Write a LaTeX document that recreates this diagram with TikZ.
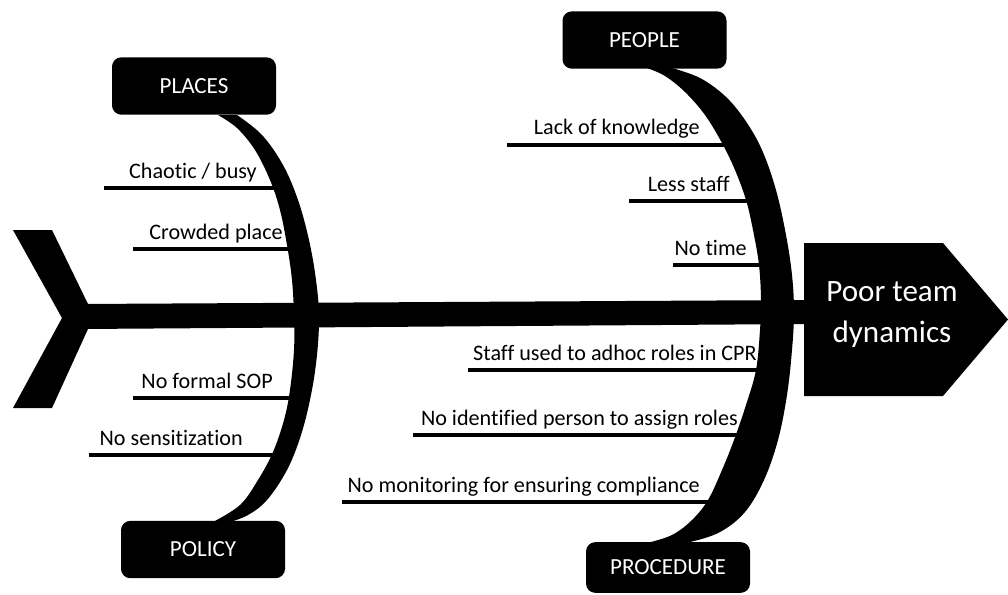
\documentclass[tikz,border=0pt]{standalone}
\usepackage{fontspec}
\setmainfont[Ligatures=NoCommon]{Carlito}
\begin{document}
\begin{tikzpicture}[x=0.75pt,y=-0.75pt,
  category/.style={fill=black,text=white,rounded corners=7pt,
    minimum width=123pt,minimum height=43pt,inner sep=0pt,
    font=\fontsize{17.3}{20}\selectfont},
  cause/.style={anchor=base east,inner sep=0pt,
    font=\fontsize{16.6}{20}\selectfont},
  subbone/.style={line width=3.4pt},
  effecttext/.style={text=white,align=center,inner sep=0pt,
    font=\fontsize{23.3}{30.75}\selectfont}]
\useasboundingbox (0,0) rectangle (1008,594);

% category boxes
\node[category] (places)    at (194,86)    {PLACES};
\node[category] (policy)    at (203,549.5) {POLICY};
\node[category] (people)    at (644.5,40)  {PEOPLE};
\node[category,minimum height=38pt] (procedure) at (668,567.5) {PROCEDURE};

% free ends of the sub-bones and their junctions with the main bones
\coordinate (c1a) at (104,188); \coordinate (c1b) at (280,188);
\coordinate (c2a) at (133,249); \coordinate (c2b) at (295,249);
\coordinate (c3a) at (133,398); \coordinate (c3b) at (295,398);
\coordinate (c4a) at (89,455);  \coordinate (c4b) at (282,455);
\coordinate (c5a) at (507,145); \coordinate (c5b) at (732,145);
\coordinate (c6a) at (629,201); \coordinate (c6b) at (752,201);
\coordinate (c7a) at (673,265); \coordinate (c7b) at (765,265);
\coordinate (c8a) at (468,370); \coordinate (c8b) at (765,370);
\coordinate (c9a) at (413,435); \coordinate (c9b) at (748,435);
\coordinate (c10a) at (342,502); \coordinate (c10b) at (712,502);

% sub-bones
\foreach \i in {1,...,10} \draw[subbone] (c\i a) -- (c\i b);

% cause labels
\node[cause] (t1) at (257,178) {Chaotic / busy};
\node[cause] (t2) at (283,239) {Crowded place};
\node[cause] (t3) at (273,388) {No formal SOP};
\node[cause] (t4) at (243,445) {No sensitization};
\node[cause] (t5) at (700,134) {Lack of knowledge};
\node[cause] (t6) at (730,191) {Less staff};
\node[cause] (t7) at (747,255) {No time};
\node[cause] (t8) at (757,360) {Staff used to adhoc roles in CPR};
\node[cause] (t9) at (738,425) {No identified person to assign roles};
\node[cause] (t10) at (700,492) {No monitoring for ensuring compliance};

% spine
\fill (80,304) -- (806,300) -- (806,324) -- (80,329) -- cycle;

% tail
\fill (13,230) -- (52,230) -- (88,304) -- (88,329) -- (52,408) -- (13,408)
  -- (62,318) -- cycle;

% left main bone: PLACES to POLICY
\fill plot[smooth,tension=0.6] coordinates {(237,115) (262,135) (283,165)
    (298,200) (309,240) (316,280) (319,316) (317,355) (311,395) (301,435)
    (287,470) (267,500) (248,515) (230,522)}
  -- plot[smooth,tension=0.6] coordinates {(213,522) (240,505) (258,480)
    (273,452) (284,420) (290,390) (294,350) (294,316) (292,280) (287,245)
    (280,210) (270,180) (255,150) (237,128) (218,115)} -- cycle;

% right main bone: PEOPLE to PROCEDURE
\fill plot[smooth,tension=0.6] coordinates {(672,68) (700,78) (725,96)
    (745,120) (762,150) (776,190) (786,235) (792,275) (794,312) (792,350)
    (787,395) (778,440) (764,480) (745,512) (720,532) (690,542) (673,543)}
  -- plot[smooth,tension=0.6] coordinates {(647,543) (672,535) (692,520)
    (708,500) (722,470) (734,440) (746,405) (756,370) (760,330) (761,300)
    (759,265) (753,230) (746,200) (735,170) (722,143) (705,115) (685,92)
    (665,76) (647,68)} -- cycle;

% head
\fill (804,243) -- (943,243) -- (1008,319.5) -- (943,396) -- (804,396) -- cycle;
\node[effecttext] (effect) at (892,315) {Poor team\\dynamics};
\end{tikzpicture}
\end{document}
